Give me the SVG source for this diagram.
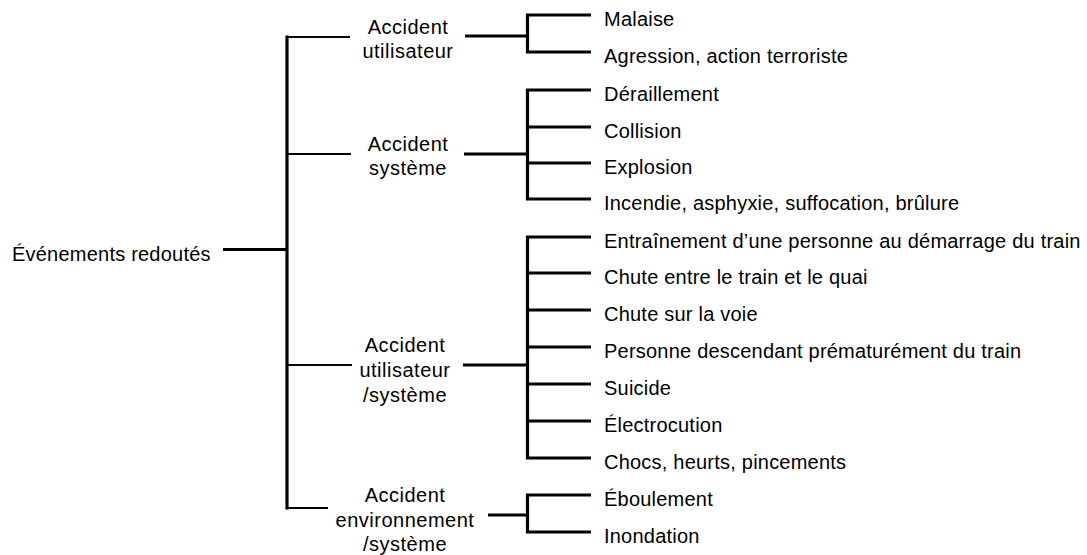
<svg xmlns="http://www.w3.org/2000/svg" width="1087" height="555" viewBox="0 0 1087 555">
<style>
text{font-family:"Liberation Sans",Arial,sans-serif;font-size:20px;letter-spacing:0.22px;fill:#000}
.mid{text-anchor:middle;letter-spacing:0.5px}
.c line,.c path{stroke:#000;fill:none;stroke-linecap:butt}
.thick{stroke-width:3.2}
.thin{stroke-width:2.2}
</style>
<rect width="1087" height="555" fill="#fff"/>
<g id="connectors" class="c">
<line class="thick" x1="223" y1="249.5" x2="287" y2="249.5"/>
<line class="thick" x1="287" y1="35.5" x2="287" y2="509.5"/>
<line class="thin" x1="286" y1="37" x2="350" y2="37"/>
<line class="thin" x1="286" y1="154" x2="351" y2="154"/>
<line class="thin" x1="286" y1="365" x2="352" y2="365"/>
<line class="thin" x1="286" y1="508" x2="328" y2="508"/>
<line class="thick" x1="465" y1="36" x2="527" y2="36"/>
<line class="thick" x1="464" y1="154" x2="527" y2="154"/>
<line class="thick" x1="463" y1="365" x2="527" y2="365"/>
<line class="thick" x1="488" y1="515" x2="527" y2="515"/>
<path class="thick" d="M591 15H527.5V52H591"/>
<path class="thick" d="M591 90H527.5V199H591M527.5 127H591M527.5 163H591"/>
<path class="thick" d="M591 237H527.5V458H591M527.5 273H591M527.5 310H591M527.5 347H591M527.5 384H591M527.5 421H591"/>
<path class="thick" d="M591 495H527.5V532H591"/>
</g>
<g id="root"><text x="12" y="261">Événements redoutés</text></g>
<g id="accident-utilisateur"><text class="mid" x="408" y="34">Accident</text><text class="mid" x="408" y="58">utilisateur</text></g>
<g id="accident-systeme"><text class="mid" x="408" y="151">Accident</text><text class="mid" x="408" y="175">système</text></g>
<g id="accident-utilisateur-systeme"><text class="mid" x="405" y="352">Accident</text><text class="mid" x="405" y="377">utilisateur</text><text class="mid" x="405" y="402">/système</text></g>
<g id="accident-environnement-systeme"><text class="mid" x="405" y="502">Accident</text><text class="mid" x="405" y="527">environnement</text><text class="mid" x="405" y="551">/système</text></g>
<g id="malaise"><text x="604" y="26">Malaise</text></g>
<g id="agression"><text x="604" y="63">Agression, action terroriste</text></g>
<g id="deraillement"><text x="604" y="101">Déraillement</text></g>
<g id="collision"><text x="604" y="138">Collision</text></g>
<g id="explosion"><text x="604" y="174">Explosion</text></g>
<g id="incendie"><text x="604" y="210">Incendie, asphyxie, suffocation, brûlure</text></g>
<g id="entrainement"><text x="604" y="248">Entraînement d’une personne au démarrage du train</text></g>
<g id="chute-quai"><text x="604" y="284">Chute entre le train et le quai</text></g>
<g id="chute-voie"><text x="604" y="321">Chute sur la voie</text></g>
<g id="personne"><text x="604" y="358">Personne descendant prématurément du train</text></g>
<g id="suicide"><text x="604" y="395">Suicide</text></g>
<g id="electrocution"><text x="604" y="432">Électrocution</text></g>
<g id="chocs"><text x="604" y="469">Chocs, heurts, pincements</text></g>
<g id="eboulement"><text x="604" y="506">Éboulement</text></g>
<g id="inondation"><text x="604" y="543">Inondation</text></g>
</svg>
